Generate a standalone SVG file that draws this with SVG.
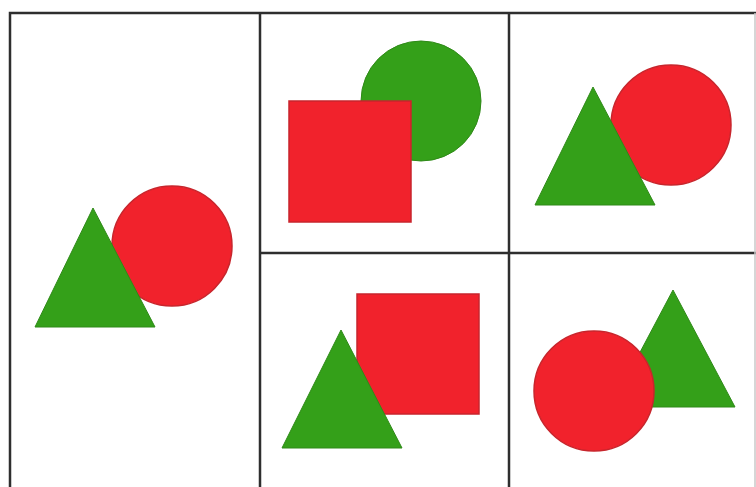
<svg xmlns="http://www.w3.org/2000/svg" width="756" height="487" viewBox="0 0 756 487">
<style>
.grid{stroke:#2e2e2e;stroke-width:2.5;fill:none}
.red{fill:#f1222c;stroke:#c8252c;stroke-width:1.5}
.green{fill:#34a019;stroke:#2f8a18;stroke-width:1}
</style>
<rect width="756" height="487" fill="#ffffff"/>
<g id="grid">
<polyline class="grid" points="10,487 10,13 756,13"/>
<line class="grid" x1="260" y1="13" x2="260" y2="487"/>
<line class="grid" x1="509" y1="13" x2="509" y2="487"/>
<line class="grid" x1="260" y1="253" x2="756" y2="253"/>
<line stroke="#c8c8c8" stroke-width="1.5" x1="755" y1="13" x2="755" y2="487"/>
</g>
<g id="panel-left">
<circle class="red" cx="172" cy="246" r="60"/>
<polygon class="green" points="93,208 155,327 35,327"/>
</g>
<g id="panel-top-middle">
<circle class="green" cx="421" cy="101" r="60"/>
<rect class="red" x="289" y="101" width="122" height="121"/>
</g>
<g id="panel-top-right">
<circle class="red" cx="671" cy="125" r="60"/>
<polygon class="green" points="593,87 655,205 535,205"/>
</g>
<g id="panel-bottom-middle">
<rect class="red" x="357" y="294" width="122" height="120"/>
<polygon class="green" points="341,330 402,448 282,448"/>
</g>
<g id="panel-bottom-right">
<polygon class="green" points="673,290 735,407 611,407"/>
<circle class="red" cx="594" cy="391" r="60"/>
</g>
</svg>
